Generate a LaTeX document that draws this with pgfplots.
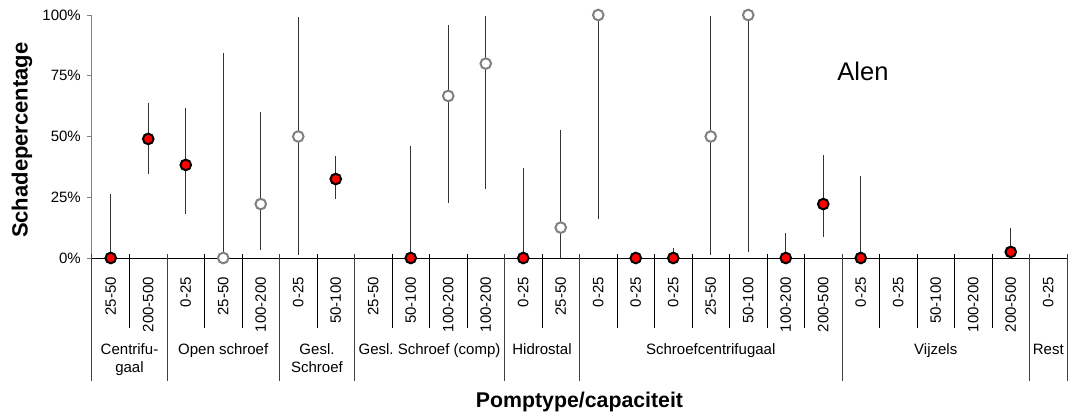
\documentclass[border=0pt]{standalone}
\usepackage{pgfplots}
\pgfplotsset{compat=1.18}
\usepackage{pgfplotstable}
\usepackage{fontspec}
\setmainfont{Liberation Sans}
\frenchspacing

\definecolor{puntgrijs}{RGB}{128,128,128}
\definecolor{puntrood}{RGB}{255,0,0}

% Schadepercentage per pomptype/capaciteit: waarde, foutmarge boven (ep) en onder (em)
\pgfplotstableread{
x    y     ep    em
0.5  0     26.4  0
1.5  49.0  14.7  14.5
2.5  38.3  23.3  20.1
6.5  32.5  9.3   8.3
8.5  0     46.2  0
11.5 0     37.0  0
14.5 0     0     0
15.5 0     4.1   0
18.5 0     10.3  0
19.5 22.2  20.3  13.6
20.5 0     33.8  0
24.5 2.5   9.8   2.5
}\reeksA

\pgfplotstableread{
x    y     ep    em
3.5  0     84.5  0
4.5  22.2  37.8  19.1
5.5  50    49.0  48.6
9.5  66.7  29.2  44.1
10.5 80    19.6  51.4
12.5 12.5  40.2  12.5
13.5 100   0     84.0
16.5 50    49.4  48.6
17.5 100   0     97.5
}\reeksB

\begin{document}
\begin{tikzpicture}[font=\fontsize{15}{18}\selectfont]
\useasboundingbox (-92pt,-158pt) rectangle (979pt,258pt);
\begin{axis}[
  at={(0pt,0pt)}, anchor=south west,
  scale only axis, width=975pt, height=243pt,
  xmin=0, xmax=26, ymin=0, ymax=100,
  clip=false,
  axis x line=bottom, axis y line=left,
  axis line style={-},
  x axis line style={black, line width=1pt},
  y axis line style={puntgrijs, line width=1pt},
  xtick={0.5,1.5,...,25.5},
  xticklabels={25-50,200-500,0-25,25-50,100-200,0-25,50-100,25-50,50-100,100-200,100-200,0-25,25-50,0-25,0-25,0-25,25-50,50-100,100-200,200-500,0-25,0-25,50-100,100-200,200-500,0-25},
  x tick style={draw=none},
  xticklabel style={rotate=90, anchor=east, inner sep=0pt},
  xticklabel shift=14pt,
  ytick={0,25,50,75,100},
  yticklabels={0\%,25\%,50\%,75\%,100\%},
  y tick style={puntgrijs, line width=1pt},
  tick align=outside,
  major tick length=5pt,
  yticklabel style={inner sep=0pt},
  yticklabel shift=6pt,
]
% scheidingslijnen tussen capaciteitsklassen
\pgfplotsinvokeforeach{1,3,4,6,8,9,10,12,14,15,16,17,18,19,21,22,23,24}{
  \draw[black, line width=1pt] ([yshift=4pt]axis cs:#1,0) -- ([yshift=-70pt]axis cs:#1,0);
}
% scheidingslijnen tussen pomptypen
\pgfplotsinvokeforeach{0,2,5,7,11,13,20,25,26}{
  \draw[black!75, line width=1pt] ([yshift=4pt]axis cs:#1,0) -- ([yshift=-123pt]axis cs:#1,0);
}

% foutmarges
\addplot[draw=none, mark=none, forget plot,
  error bars/.cd, y dir=both, y explicit, error mark=none,
  error bar style={draw=black!80, line width=1pt}]
  table[x=x, y=y, y error plus=ep, y error minus=em] {\reeksA};
\addplot[draw=none, mark=none, forget plot,
  error bars/.cd, y dir=both, y explicit, error mark=none,
  error bar style={draw=black!80, line width=1pt}]
  table[x=x, y=y, y error plus=ep, y error minus=em] {\reeksB};

% punten
\addplot[only marks, mark=*, mark size=5.3pt,
  mark options={fill=puntrood, draw=black, line width=2pt}]
  table[x=x, y=y] {\reeksA};
\addplot[only marks, mark=*, mark size=5.3pt,
  mark options={fill=white, draw=puntgrijs, line width=2pt}]
  table[x=x, y=y] {\reeksB};

% pomptypen
\node[anchor=base] at ([yshift=-96pt]axis cs:1,0) {Centrifu-};
\node[anchor=base] at ([yshift=-114pt]axis cs:1,0) {gaal};
\node[anchor=base] at ([yshift=-96pt]axis cs:3.5,0) {Open schroef};
\node[anchor=base] at ([yshift=-96pt]axis cs:6,0) {Gesl.};
\node[anchor=base] at ([yshift=-114pt]axis cs:6,0) {Schroef};
\node[anchor=base] at ([yshift=-96pt]axis cs:9,0) {Gesl. Schroef (comp)};
\node[anchor=base] at ([yshift=-96pt]axis cs:12,0) {Hidrostal};
\node[anchor=base] at ([yshift=-96pt]axis cs:16.5,0) {Schroefcentrifugaal};
\node[anchor=base] at ([yshift=-96pt]axis cs:22.5,0) {Vijzels};
\node[anchor=base] at ([yshift=-96pt]axis cs:25.5,0) {Rest};

\node[font=\fontsize{25.5}{30}\selectfont] at (axis cs:20.56,76.6) {Alen};

% astitels
\node[anchor=base, font=\bfseries\fontsize{21.3}{25}\selectfont] at ([yshift=-149pt]axis cs:13,0) {Pomptype/capaciteit};
\node[rotate=90, font=\bfseries\fontsize{22}{26}\selectfont] at ([xshift=-70pt]axis cs:0,48.5) {Schadepercentage};
\end{axis}
\end{tikzpicture}
\end{document}
